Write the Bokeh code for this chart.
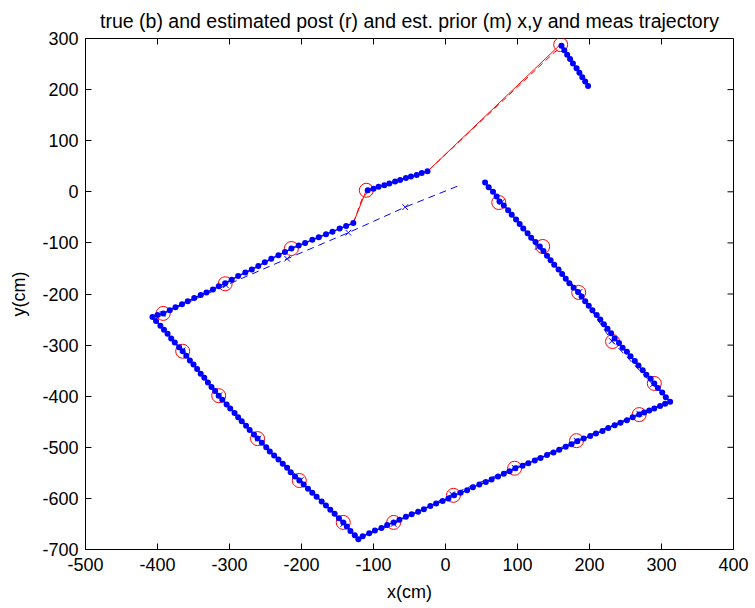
import math

from bokeh.plotting import figure
from bokeh.models import Range1d, FixedTicker
from bokeh.embed import file_html
from bokeh.resources import INLINE

# ---- true trajectory (cm), one sample per time step ----
# main loop: down the right side, along the bottom, up the left side, then up-right
true_loop_x = [
    55, 60, 66, 71, 75, 81, 87, 92, 98, 103, 108, 114, 119, 125, 131, 136, 141,
    146, 151, 157, 162, 167, 172, 178, 184, 189, 194, 199, 204, 210, 215, 220,
    225, 230, 235, 241, 246, 252, 257, 263, 268, 274, 279, 285, 290, 295, 301,
    306, 312,
    305, 298, 290, 283, 276, 269, 260, 252, 243, 235, 226, 218, 209, 201, 192,
    183, 175, 167, 158, 150, 141, 132, 124, 115, 107, 97, 89, 81, 73, 64, 56,
    47, 38, 30, 21, 12, 4, -4, -13, -21, -30, -38, -47, -55, -64, -72, -81, -89,
    -98, -106, -115, -121,
    -126, -132, -137, -142, -148, -154, -160, -166, -172, -179, -185, -191,
    -197, -203, -209, -215, -220, -226, -232, -238, -244, -249, -255, -261,
    -266, -272, -277, -283, -288, -293, -299, -304, -310, -315, -320, -325,
    -330, -335, -340, -345, -350, -355, -360, -365, -370, -376, -381, -386,
    -391, -396, -402, -407,
    -400, -392, -383, -375, -366, -358, -349, -340, -332, -323, -315, -306,
    -297, -288, -278, -269, -260, -251, -242, -232, -223, -214, -204, -195,
    -185, -176, -166, -157, -147, -138, -128,
]
true_loop_y = [
    18, 9, 0, -9, -19, -27, -36, -45, -54, -63, -72, -81, -90, -98, -107, -116,
    -125, -134, -143, -152, -161, -170, -179, -188, -196, -205, -214, -223,
    -232, -241, -250, -259, -268, -277, -287, -296, -305, -313, -322, -331,
    -340, -349, -358, -366, -375, -384, -393, -402, -411,
    -415, -419, -424, -428, -432, -436, -441, -447, -452, -457, -462, -468,
    -473, -478, -483, -488, -494, -499, -505, -510, -515, -521, -526, -531,
    -536, -541, -547, -552, -557, -563, -568, -573, -578, -584, -589, -594,
    -600, -605, -610, -615, -621, -626, -631, -636, -642, -647, -652, -658,
    -663, -668, -674, -680,
    -672, -664, -655, -647, -639, -630, -622, -614, -606, -597, -589, -581,
    -573, -565, -557, -549, -540, -532, -524, -516, -508, -500, -491, -483,
    -475, -466, -458, -449, -441, -433, -424, -416, -407, -399, -390, -382,
    -373, -364, -356, -347, -338, -330, -321, -312, -304, -295, -287, -278,
    -270, -262, -253, -245,
    -241, -238, -232, -226, -220, -214, -208, -202, -197, -191, -185, -179,
    -172, -165, -158, -152, -145, -138, -131, -124, -118, -111, -105, -100,
    -94, -89, -83, -78, -72, -67, -61,
]
# after the first jump
true_b_x = [-108, -100, -93, -85, -78, -70, -63, -55, -48, -40, -33, -25]
true_b_y = [3, 6, 10, 13, 16, 20, 23, 27, 30, 33, 37, 40]
# after the second jump
true_c_x = [161, 165, 169, 173, 177, 182, 186, 190, 194, 198]
true_c_y = [286, 277, 268, 260, 251, 242, 233, 224, 216, 207]

# ---- posterior estimate at measurement updates (circles) ----
post_upd_x = [74, 135, 185, 232, 290, 269, 182, 96, 11, -72,
              -142, -203, -261, -315, -365, -392, -306, -214, -110, 160]
post_upd_y = [-21, -107, -197, -293, -375, -436, -487, -541, -594, -647,
              -647, -565, -483, -399, -312, -238, -180, -111, 3, 288]

# posterior track across the jumps (solid red)
post_x = [-128, -110, -25, 160, 198]
post_y = [-61, 3, 40, 289, 207]

# prior track across the jumps (dashed red)
prior_x = [-128, -116, -105, -25, 152, 163, 198]
prior_y = [-61, -14, 4, 40, 274, 282, 207]

# ---- measurements ----
meas_x = [78, 128, 186, 231, 288, 269, 182, 96, 9, -72,
          -142, -201, -260, -314, -365, -393, -305, -220, -135, -56]
meas_y = [-20, -108, -196, -292, -377, -434, -487, -540, -592, -650,
          -650, -564, -483, -398, -310, -239, -183, -131, -80, -30]
meas_track_x = [52, 78, 128, 186, 231, 288, 313, 269, 182, 96, 9, -72, -121,
                -142, -201, -260, -314, -365, -407, -393, -305, -220, -135,
                -56, 22]
meas_track_y = [22, -20, -108, -196, -292, -377, -410, -434, -487, -540, -592,
                -650, -679, -650, -564, -483, -398, -310, -244, -239, -183,
                -131, -80, -30, 14]

x_ticks = [-500, -400, -300, -200, -100, 0, 100, 200, 300, 400]
y_ticks = [-700, -600, -500, -400, -300, -200, -100, 0, 100, 200, 300]
X_MIN, X_MAX = -500, 400
Y_MIN, Y_MAX = -700, 300

FONT = "Liberation Sans"
BLUE = "#0000ff"
RED = "#ff0000"
TICK_LEN = 6

p = figure(
    width=755, height=608,
    x_range=Range1d(X_MIN, X_MAX), y_range=Range1d(Y_MIN, Y_MAX),
    output_backend="svg", toolbar_location=None,
    min_border_left=85, min_border_right=22,
    min_border_top=38, min_border_bottom=59,
    title="true (b) and estimated post (r) and est. prior (m) x,y and meas trajectory",
)
p.background_fill_color = "white"
p.border_fill_color = "white"
p.outline_line_color = "black"
p.outline_line_width = 1
p.xgrid.visible = False
p.ygrid.visible = False

p.title.align = "center"
p.title.text_font = FONT
p.title.text_font_size = "19.5px"
p.title.text_font_style = "normal"
p.title.text_color = "black"
p.title.standoff = 13

xa = p.xaxis[0]
ya = p.yaxis[0]
xa.ticker = FixedTicker(ticks=x_ticks)
ya.ticker = FixedTicker(ticks=y_ticks)
xa.major_label_overrides = {t: str(t) for t in x_ticks}
ya.major_label_overrides = {t: str(t) for t in y_ticks}
for ax in (xa, ya):
    ax.axis_line_color = "black"
    ax.major_tick_line_color = "black"
    ax.major_tick_in = TICK_LEN
    ax.major_tick_out = 0
    ax.minor_tick_line_color = None
    ax.major_label_text_font = FONT
    ax.major_label_text_font_size = "18px"
    ax.major_label_text_color = "black"
    ax.axis_label_text_font = FONT
    ax.axis_label_text_font_size = "18px"
    ax.axis_label_text_font_style = "normal"
    ax.axis_label_text_color = "black"
xa.axis_label = "x(cm)"
ya.axis_label = "y(cm)"
xa.major_label_standoff = 8
ya.major_label_standoff = 7
xa.axis_label_standoff = 8
ya.axis_label_standoff = 10

# inward ticks on the top and right edges of the box
p.ray(x=x_ticks, y=[Y_MAX] * len(x_ticks), length=TICK_LEN,
      length_units="screen", angle=-math.pi / 2, line_color="black",
      line_width=1)
p.ray(x=[X_MAX] * len(y_ticks), y=y_ticks, length=TICK_LEN,
      length_units="screen", angle=math.pi, line_color="black",
      line_width=1)

# red posterior / prior tracks
p.line(post_x, post_y, line_color=RED, line_width=1)
p.line(prior_x, prior_y, line_color=RED, line_width=1, line_dash="6 4")

# measurement track
p.line(meas_track_x, meas_track_y, line_color=BLUE, line_width=1,
       line_dash="7 5")

# posterior at update steps
p.scatter(post_upd_x, post_upd_y, marker="circle", size=14,
          fill_color=None, line_color=RED, line_width=1)

# true trajectory
for xs, ys in ((true_loop_x, true_loop_y), (true_b_x, true_b_y),
               (true_c_x, true_c_y)):
    p.line(xs, ys, line_color=BLUE, line_width=1.5)
    p.scatter(xs, ys, marker="circle", size=6, fill_color=BLUE,
              line_color=BLUE, line_width=0)

# measurement samples
p.scatter(meas_x, meas_y, marker="x", size=8, line_color=BLUE, line_width=1)

open("out.html", "w").write(file_html(p, INLINE))
